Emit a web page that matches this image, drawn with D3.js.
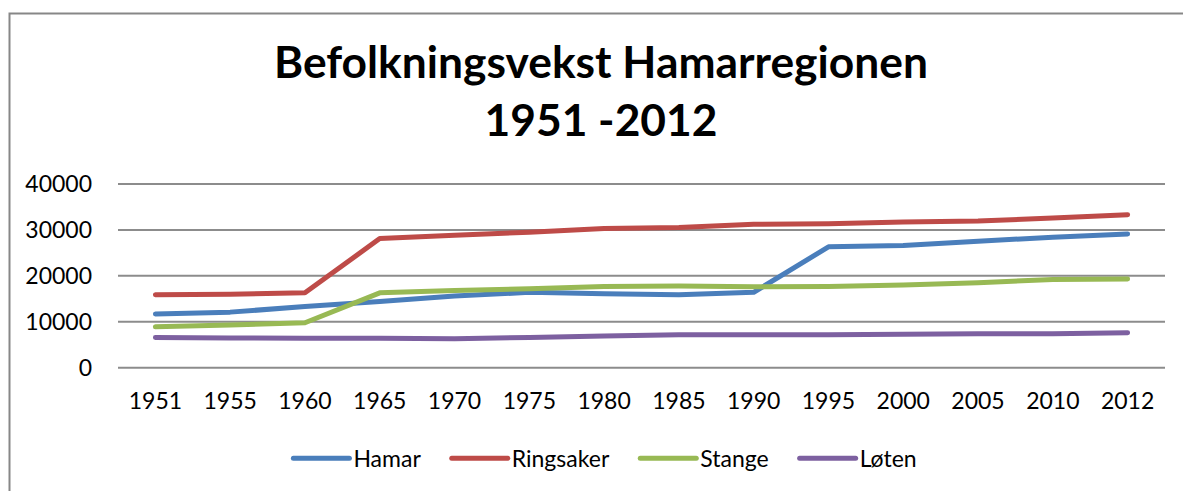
<!DOCTYPE html>
<html>
<head>
<meta charset="utf-8">
<script src="https://cdn.jsdelivr.net/npm/d3@7"></script>
<style>
  html, body { margin: 0; padding: 0; background: #fff; }
  svg { display: block; }
  text { font-family: Lato, "Open Sans", sans-serif; fill: #000; }
</style>
</head>
<body>
<svg id="chart" width="1183" height="491"></svg>
<script>
const titleLines = ["Befolkningsvekst Hamarregionen", "1951 -2012"];
const years = ["1951","1955","1960","1965","1970","1975","1980","1985","1990","1995","2000","2005","2010","2012"];
const yTicks = [0, 10000, 20000, 30000, 40000];
const seriesNames = ["Hamar", "Ringsaker", "Stange", "Løten"];
const seriesColors = ["#4A7EBB", "#BE4B48", "#98B954", "#7D60A0"];
const hamar     = [11600, 12000, 13200, 14300, 15500, 16300, 16000, 15800, 16300, 26200, 26500, 27400, 28300, 29000];
const ringsaker = [15800, 15900, 16200, 28000, 28700, 29400, 30200, 30400, 31100, 31200, 31600, 31800, 32500, 33200];
const stange    = [8800, 9200, 9700, 16200, 16700, 17100, 17600, 17700, 17500, 17600, 17900, 18400, 19100, 19200];
const loten     = [6500, 6400, 6300, 6300, 6200, 6500, 6800, 7100, 7100, 7100, 7200, 7300, 7300, 7500];
const seriesValues = [hamar, ringsaker, stange, loten];

const svg = d3.select("#chart");

// chart border (left + top visible)
svg.append("rect").attr("x", 9.5).attr("y", 13.5).attr("width", 1190).attr("height", 500)
  .attr("fill", "none").attr("stroke", "#878787").attr("stroke-width", 2);

// title
const titleSize = 40;
const t1 = svg.append("text").attr("x", 601).attr("y", 78).attr("text-anchor", "middle")
  .attr("font-weight", "bold").attr("font-size", titleSize).text(titleLines[0]);
const w = t1.node().getComputedTextLength();
const fs = titleSize * 654 / w;
t1.attr("font-size", fs);
svg.append("text").attr("x", 601).attr("y", 136).attr("text-anchor", "middle")
  .attr("font-weight", "bold").attr("font-size", fs).text(titleLines[1]);

const x = d3.scaleBand().domain(years).range([118, 1165]);
const y = d3.scaleLinear().domain([0, 40000]).range([367.3, 183.4]);

// gridlines
const yAxis = d3.axisLeft(y).tickValues(yTicks).tickSize(-(1165 - 118)).tickPadding(26).tickFormat(d3.format("d"));
const gy = svg.append("g").attr("transform", "translate(118,0)").call(yAxis);
gy.select(".domain").remove();
gy.selectAll(".tick line").attr("stroke", "#8c8c8c").attr("stroke-width", 2);
gy.selectAll(".tick text").attr("font-size", 23).attr("fill", "#000")
  .style("font-family", "Lato, 'Open Sans', sans-serif").attr("dy", "0.36em");

// x axis labels
const xAxis = d3.axisBottom(x).tickSize(0).tickPadding(25);
const gx = svg.append("g").attr("transform", "translate(0,367.3)").call(xAxis);
gx.select(".domain").remove();
gx.selectAll(".tick text").attr("font-size", 23).attr("fill", "#000")
  .style("font-family", "Lato, 'Open Sans', sans-serif");

// lines
const line = d3.line()
  .x((d, i) => x(years[i]) + x.bandwidth() / 2)
  .y(d => y(d));
seriesValues.forEach((vals, k) => {
  svg.append("path").datum(vals).attr("d", line)
    .attr("fill", "none").attr("stroke", seriesColors[k]).attr("stroke-width", 5)
    .attr("stroke-linejoin", "round").attr("stroke-linecap", "round");
});

// legend
const lg = svg.append("g");
let cx = 0;
seriesNames.forEach((name, k) => {
  const g = lg.append("g");
  g.append("line").attr("x1", cx).attr("x2", cx + 56).attr("y1", 458.3).attr("y2", 458.3)
    .attr("stroke", seriesColors[k]).attr("stroke-width", 5).attr("stroke-linecap", "round");
  const tx = g.append("text").attr("x", cx + 60).attr("y", 467).attr("font-size", 23).text(name);
  cx += 60 + tx.node().getComputedTextLength() + 31;
});
const totalW = cx - 31;
lg.attr("transform", `translate(${605 - totalW / 2},0)`);
</script>
</body>
</html>
